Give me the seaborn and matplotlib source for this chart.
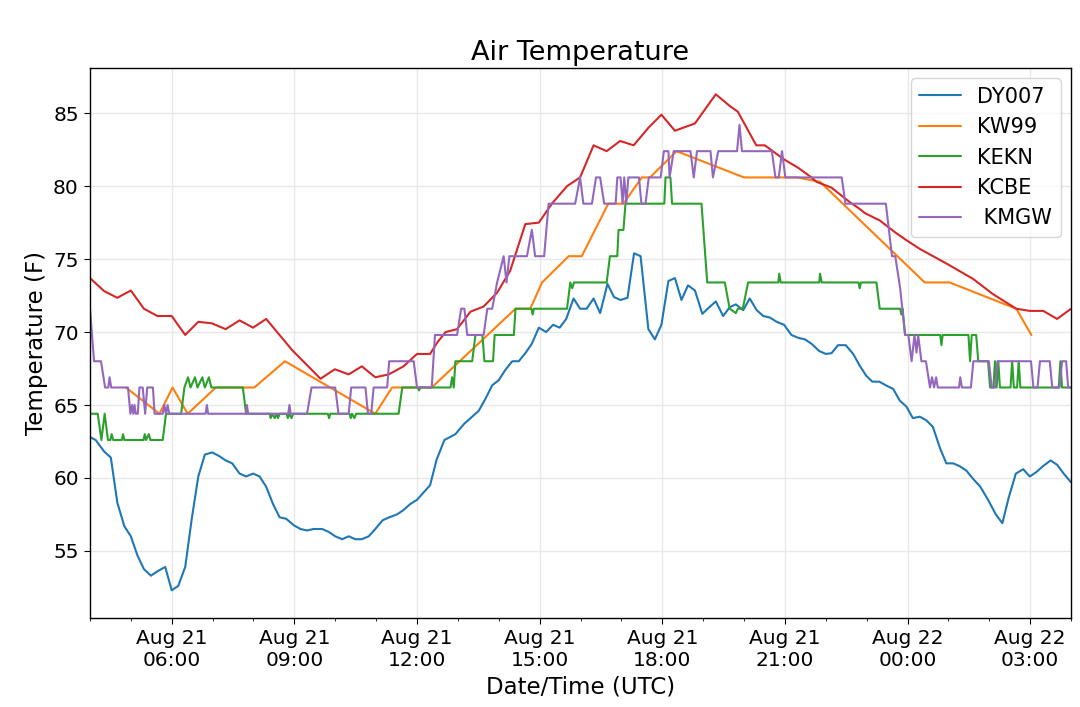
import pandas as pd
import matplotlib
matplotlib.use('Agg')
import matplotlib.pyplot as plt
import matplotlib.dates as mdates
import seaborn as sns

# all times are hours after 2017-08-21 04:00 UTC
start = pd.Timestamp('2017-08-21 04:00')

dy007_t = [0.0, 0.14, 0.35, 0.51, 0.67, 0.84, 1.0, 1.16, 1.32, 1.49,
           1.65, 1.84, 2.0, 2.16, 2.33, 2.49, 2.65, 2.81, 2.99, 3.16,
           3.32, 3.48, 3.66, 3.82, 3.99, 4.15, 4.31, 4.48, 4.64, 4.8,
           4.99, 5.15, 5.31, 5.47, 5.68, 5.84, 6.0, 6.17, 6.33, 6.49,
           6.65, 6.82, 6.98, 7.16, 7.32, 7.51, 7.67, 7.83, 8.0, 8.16,
           8.32, 8.48, 8.67, 8.94, 9.15, 9.35, 9.51, 9.67, 9.84, 10.0,
           10.16, 10.33, 10.49, 10.65, 10.81, 10.98, 11.16, 11.33, 11.49, 11.65,
           11.83, 11.99, 12.15, 12.32, 12.48, 12.66, 12.82, 12.98, 13.15, 13.31,
           13.47, 13.66, 13.82, 13.98, 14.15, 14.31, 14.47, 14.63, 14.8, 14.98,
           15.15, 15.31, 15.49, 15.65, 15.8, 15.98, 16.14, 16.31, 16.47, 16.63,
           16.8, 16.98, 17.16, 17.33, 17.49, 17.65, 17.84, 18.0, 18.14, 18.3,
           18.49, 18.67, 18.83, 18.99, 19.14, 19.31, 19.47, 19.65, 19.81, 19.97,
           20.13, 20.3, 20.46, 20.62, 20.8, 20.95, 21.12, 21.28, 21.44, 21.6,
           21.78, 21.97, 22.16, 22.32, 22.48, 22.65, 22.83, 22.99, 23.15, 23.31,
           23.5, 23.66, 23.82, 24.0]
dy007_v = [62.8, 62.6, 61.8, 61.4, 58.3, 56.7, 56.0, 54.7, 53.75, 53.3,
           53.6, 53.9, 52.3, 52.6, 53.9, 57.2, 60.1, 61.6, 61.75, 61.5,
           61.2, 61.0, 60.3, 60.1, 60.3, 60.1, 59.4, 58.2, 57.3, 57.2,
           56.75, 56.5, 56.4, 56.5, 56.5, 56.3, 56.0, 55.8, 56.0, 55.8,
           55.8, 56.0, 56.5, 57.1, 57.3, 57.5, 57.8, 58.2, 58.5, 59.0,
           59.5, 61.25, 62.6, 63.0, 63.7, 64.2, 64.6, 65.4, 66.35, 66.7,
           67.4, 68.0, 68.0, 68.55, 69.2, 70.3, 70.0, 70.5, 70.3, 70.9,
           72.3, 71.6, 71.6, 72.3, 71.3, 73.3, 72.4, 72.2, 72.35, 75.4,
           75.2, 70.2, 69.5, 70.5, 73.5, 73.7, 72.2, 73.2, 72.85, 71.25,
           71.7, 72.1, 71.1, 71.7, 71.9, 71.5, 72.3, 71.5, 71.1, 71.0,
           70.7, 70.5, 69.8, 69.6, 69.5, 69.2, 68.7, 68.5, 68.55, 69.1,
           69.1, 68.5, 67.7, 67.0, 66.6, 66.6, 66.35, 66.1, 65.3, 64.9,
           64.1, 64.2, 63.95, 63.5, 62.0, 61.0, 61.0, 60.8, 60.5, 59.95,
           59.4, 58.5, 57.5, 56.9, 58.7, 60.3, 60.6, 60.1, 60.4, 60.8,
           61.2, 60.9, 60.3, 59.7]

kw99_t = [0.88, 1.70, 2.02, 2.39, 3.08, 4.02, 4.77, 6.98, 7.39, 8.36,
          10.41, 10.77, 11.06, 11.71, 12.03, 12.68, 13.05, 13.5, 13.7, 14.35,
          16.0, 17.3, 17.86, 20.42, 21.03, 22.66, 23.03]
kw99_v = [66.2, 64.4, 66.2, 64.4, 66.2, 66.2, 68.0, 64.4, 66.2, 66.2,
          71.6, 71.6, 73.4, 75.2, 75.2, 78.8, 78.8, 80.6, 80.6, 82.4,
          80.6, 80.6, 80.3, 73.4, 73.4, 71.6, 69.8]

kekn_t = [0.0, 0.19, 0.28, 0.36, 0.44, 0.50, 0.53, 0.57, 0.78, 0.81,
          0.84, 1.31, 1.34, 1.37, 1.44, 1.48, 1.78, 1.86, 2.23, 2.31,
          2.40, 2.46, 2.57, 2.63, 2.75, 2.81, 2.91, 2.97, 3.74, 3.82,
          4.40, 4.42, 4.45, 4.52, 4.56, 4.60, 4.64, 4.81, 4.84, 4.87,
          4.93, 4.97, 5.82, 5.85, 5.88, 6.35, 6.38, 6.41, 6.47, 6.51,
          7.55, 7.64, 8.02, 8.05, 8.08, 8.82, 8.86, 8.90, 8.94, 9.35,
          9.43, 9.60, 9.65, 9.86, 9.90, 10.37, 10.41, 10.80, 10.83, 10.86,
          11.67, 11.75, 11.80, 11.84, 12.64, 12.72, 12.90, 12.93, 13.05, 13.10,
          14.05, 14.08, 14.20, 14.24, 14.96, 15.10, 15.53, 15.65, 15.80, 15.85,
          15.97, 16.10, 16.84, 16.86, 16.90, 17.84, 17.86, 17.90, 18.80, 18.83,
          18.86, 19.24, 19.32, 19.82, 19.85, 19.88, 19.94, 20.80, 20.83, 20.86,
          21.49, 21.53, 21.57, 21.68, 21.73, 21.97, 22.02, 22.10, 22.14, 22.18,
          22.22, 22.26, 22.52, 22.56, 22.60, 22.68, 22.72, 22.76, 23.70, 23.74,
          23.78, 24.0]
kekn_v = [64.4, 64.4, 62.6, 64.4, 62.6, 62.6, 63.0, 62.6, 62.6, 63.0,
          62.6, 62.6, 63.0, 62.6, 63.0, 62.6, 62.6, 64.4, 64.4, 66.2,
          66.9, 66.2, 66.9, 66.2, 66.9, 66.2, 66.9, 66.2, 66.2, 64.4,
          64.4, 64.1, 64.4, 64.1, 64.4, 64.1, 64.4, 64.4, 64.1, 64.4,
          64.1, 64.4, 64.4, 64.1, 64.4, 64.4, 64.1, 64.4, 64.1, 64.4,
          64.4, 66.2, 66.2, 66.0, 66.2, 66.2, 66.9, 66.2, 68.0, 68.0,
          69.8, 69.8, 68.0, 68.0, 69.8, 69.8, 71.6, 71.6, 71.2, 71.6,
          71.6, 73.4, 73.0, 73.4, 73.4, 75.2, 75.2, 77.0, 77.0, 78.8,
          78.8, 80.6, 80.6, 78.8, 78.8, 73.4, 73.4, 71.6, 71.3, 71.6,
          71.6, 73.4, 73.4, 74.0, 73.4, 73.4, 74.0, 73.4, 73.4, 73.0,
          73.4, 73.4, 71.6, 71.6, 71.2, 71.6, 69.8, 69.8, 69.1, 69.8,
          69.8, 68.0, 69.8, 69.8, 68.0, 68.0, 66.2, 66.2, 68.0, 66.2,
          68.0, 66.2, 66.2, 68.0, 66.2, 66.2, 68.0, 66.2, 66.2, 68.0,
          66.2, 66.2]

kcbe_t = [0.0, 0.35, 0.67, 1.0, 1.32, 1.65, 2.0, 2.33, 2.65, 2.98,
          3.32, 3.66, 3.99, 4.31, 4.95, 5.64, 5.99, 6.33, 6.65, 6.98,
          7.31, 7.67, 8.0, 8.32, 8.5, 8.7, 8.98, 9.31, 9.63, 9.96,
          10.28, 10.65, 10.98, 11.3, 11.67, 11.99, 12.32, 12.64, 12.97, 13.3,
          13.66, 13.98, 14.31, 14.8, 15.31, 15.65, 15.85, 16.3, 16.51, 16.8,
          17.0, 17.33, 17.65, 17.77, 18.14, 18.59, 18.8, 18.96, 19.32, 19.69,
          19.97, 20.3, 20.95, 21.6, 22.09, 22.66, 22.99, 23.32, 23.66, 24.0]
kcbe_v = [73.7, 72.8, 72.35, 72.85, 71.6, 71.1, 71.1, 69.8, 70.7, 70.6,
          70.2, 70.8, 70.3, 70.9, 68.75, 66.8, 67.45, 67.1, 67.65, 66.9,
          67.1, 67.65, 68.5, 68.5, 69.3, 70.0, 70.2, 71.4, 71.75, 72.7,
          74.2, 77.4, 77.5, 78.8, 80.0, 80.6, 82.8, 82.4, 83.1, 82.8,
          84.0, 84.9, 83.8, 84.3, 86.3, 85.5, 85.1, 82.8, 82.8, 82.2,
          81.8, 81.25, 80.6, 80.3, 79.9, 78.9, 78.5, 78.15, 77.65, 76.85,
          76.3, 75.7, 74.7, 73.65, 72.6, 71.6, 71.45, 71.45, 70.9, 71.6]

kmgw_t = [0.0, 0.10, 0.27, 0.37, 0.45, 0.48, 0.52, 0.93, 0.99, 1.03,
          1.06, 1.09, 1.12, 1.17, 1.21, 1.29, 1.35, 1.40, 1.54, 1.58,
          1.78, 1.82, 1.86, 1.90, 1.94, 2.83, 2.86, 2.89, 3.81, 3.84,
          3.87, 4.85, 4.88, 4.91, 5.31, 5.42, 6.0, 6.08, 6.33, 6.39,
          6.74, 6.80, 6.88, 6.94, 7.27, 7.32, 7.92, 8.0, 8.36, 8.44,
          8.98, 9.08, 9.16, 9.23, 9.63, 9.72, 9.84, 9.96, 10.12, 10.19,
          10.26, 10.69, 10.81, 10.89, 11.11, 11.22, 11.87, 11.99, 12.07, 12.28,
          12.38, 12.48, 12.58, 12.86, 12.9, 12.98, 13.03, 13.07, 13.12, 13.17,
          13.43, 13.49, 13.59, 13.67, 13.96, 14.04, 14.15, 14.18, 14.28, 14.69,
          14.77, 14.85, 15.18, 15.24, 15.37, 15.83, 15.89, 15.95, 16.68, 16.77,
          16.85, 16.93, 17.01, 18.39, 18.48, 19.47, 19.62, 19.7, 19.82, 19.94,
          20.02, 20.1, 20.17, 20.22, 20.26, 20.34, 20.45, 20.55, 20.6, 20.65,
          20.7, 20.74, 21.26, 21.29, 21.33, 21.55, 21.61, 21.99, 22.06, 22.14,
          22.2, 23.02, 23.08, 23.18, 23.24, 23.48, 23.54, 23.72, 23.78, 23.88,
          23.93, 24.0]
kmgw_v = [71.6, 68.0, 68.0, 66.2, 66.2, 66.9, 66.2, 66.2, 64.4, 65.0,
          64.4, 65.0, 64.4, 64.4, 66.2, 66.2, 64.4, 66.2, 66.2, 64.4,
          64.4, 65.0, 64.4, 65.0, 64.4, 64.4, 65.0, 64.4, 64.4, 65.0,
          64.4, 64.4, 65.0, 64.4, 64.4, 66.2, 66.2, 64.4, 64.4, 66.2,
          66.2, 64.4, 64.4, 66.2, 66.2, 68.0, 68.0, 66.2, 66.2, 69.8,
          69.8, 71.6, 71.6, 69.8, 69.8, 71.6, 71.6, 73.4, 75.2, 73.4,
          75.2, 75.2, 77.0, 75.2, 75.2, 78.8, 78.8, 80.6, 78.8, 78.8,
          80.6, 80.6, 78.8, 78.8, 80.6, 80.6, 78.8, 80.6, 78.8, 80.6,
          80.6, 78.8, 78.8, 80.6, 80.6, 82.4, 82.4, 80.6, 82.4, 82.4,
          80.6, 82.4, 82.4, 80.6, 82.4, 82.4, 84.2, 82.4, 82.4, 80.6,
          80.6, 82.4, 80.6, 80.6, 78.8, 78.8, 75.2, 75.2, 73.0, 69.8,
          69.8, 68.0, 69.8, 68.6, 69.8, 68.0, 68.0, 66.2, 66.9, 66.2,
          66.9, 66.2, 66.2, 66.9, 66.2, 66.2, 68.0, 68.0, 66.2, 66.2,
          68.0, 68.0, 66.2, 66.2, 68.0, 68.0, 66.2, 66.2, 68.0, 68.0,
          66.2, 66.2]

stations = ['DY007', 'KW99', 'KEKN', 'KCBE', ' KMGW']
series = [(dy007_t, dy007_v), (kw99_t, kw99_v), (kekn_t, kekn_v),
          (kcbe_t, kcbe_v), (kmgw_t, kmgw_v)]

frames = []
for name, (t, v) in zip(stations, series):
    frames.append(pd.DataFrame({
        'time': start + pd.to_timedelta(t, unit='h'),
        'temp': v,
        'station': name,
    }))
df = pd.concat(frames, ignore_index=True)

sns.set_style('ticks')
plt.rcParams['font.family'] = ['DejaVu Sans']
plt.rcParams['text.color'] = 'black'
plt.rcParams['axes.labelcolor'] = 'black'
plt.rcParams['xtick.color'] = 'black'
plt.rcParams['ytick.color'] = 'black'

fig, ax = plt.subplots(figsize=(10.8, 7.07), dpi=100)
fig.subplots_adjust(left=0.0833, right=0.9917, top=0.9038, bottom=0.1259)

sns.lineplot(data=df, x='time', y='temp', hue='station', hue_order=stations,
             palette=sns.color_palette('tab10', 5), estimator=None,
             linewidth=1.5, ax=ax)

ax.set_xlim(start, start + pd.Timedelta(hours=24))
ax.set_ylim(50.4, 88.1)
ax.xaxis.set_major_locator(mdates.HourLocator(byhour=range(0, 24, 3)))
ax.xaxis.set_minor_locator(mdates.HourLocator())
ax.xaxis.set_major_formatter(mdates.DateFormatter('%b %d\n%H:%M'))
ax.set_yticks([55, 60, 65, 70, 75, 80, 85])
ax.tick_params(axis='both', which='major', labelsize=14.5, length=4.5, color='black')
ax.tick_params(axis='x', which='minor', length=2.5, color='black')
ax.grid(True, which='major', color='#e8e8e8', linewidth=1)
for s in ax.spines.values():
    s.set_color('black')
    s.set_linewidth(1)

ax.set_title('Air Temperature', fontsize=19.5)
ax.set_xlabel('Date/Time (UTC)', fontsize=16.5)
ax.set_ylabel('Temperature (F)', fontsize=16.5)
ax.legend(loc='upper right', fontsize=15, title=None, labelspacing=0.5)

plt.savefig('out.png', dpi=100)
